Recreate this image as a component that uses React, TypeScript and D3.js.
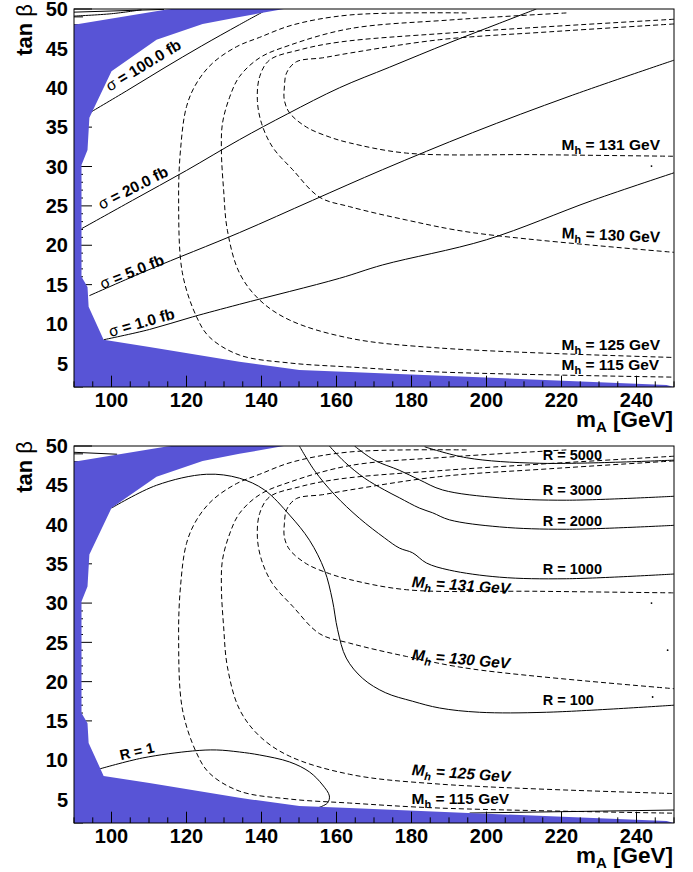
import React from "react";
import * as d3 from "d3";

type Pt = [number, number];

// axis ticks
const xMajor = [100, 120, 140, 160, 180, 200, 220, 240];
const yMajor = [5, 10, 15, 20, 25, 30, 35, 40, 45, 50];

// excluded region (same in both panels)
const excluded: Pt[] = [
  [90, 2], [90, 48.0], [114.7, 49.95], [116, 50], [146, 50], [144.8, 49.9], [134.1, 49.0],
  [124.3, 48.1], [112, 46.1], [100, 42.1], [94.1, 36.2], [93.6, 32.1], [92, 30.2], [92, 16.0],
  [93.6, 14.7], [93.9, 12.2], [97.9, 8.0], [110.1, 7.08], [134.1, 5.2], [150.1, 4.16],
  [163.5, 3.9], [248, 2.25], [250, 2],
];

// Higgs mass contours (dashed, both panels)
const mh131: Pt[] = [
  [250, 48.1], [216.8, 47.1], [187.5, 46.1], [163.5, 44.4], [156.3, 43.8], [149.3, 43.3], [146.7, 41.9],
  [146.1, 40.1], [146.1, 38.4], [147.5, 36.8], [152, 35.0], [158.1, 33.75], [163.5, 33.0],
  [178.7, 31.7], [214.1, 31.5], [250, 31.3],
];
const mh130: Pt[] = [
  [250, 48.7], [190.1, 46.95], [160.8, 45.8], [150.1, 44.8], [142.1, 43.5], [139.5, 41.4],
  [138.9, 38.4], [140, 35.5], [142.9, 32.5], [148.3, 29.6], [155.5, 26.1], [163.5, 24.9],
  [178.7, 23.2], [196.3, 21.6], [250, 19.1],
];
const mh125: Pt[] = [
  [221.3, 49.5], [190.1, 48.6], [163.5, 47.5], [147.5, 45.4], [139.5, 43.8], [134.1, 41.4],
  [131.5, 38.8], [129.6, 35.5], [129.3, 32.1], [129.9, 27.0], [130.9, 21.9], [134.1, 16.5],
  [139.5, 13.05], [147.5, 10.5], [163.5, 8.2], [187.5, 6.95], [250, 5.75],
];
const mh115: Pt[] = [
  [194.7, 49.5], [163.5, 49.24], [148.3, 47.97], [139.5, 46.4], [133.3, 45.2], [126.9, 43.1],
  [122.7, 40.6], [120, 37.6], [118.4, 32.1], [117.9, 25.75], [118.9, 16.5], [122.7, 10.9],
  [126.1, 8.35], [134.1, 6.06], [147.5, 5.05], [163.5, 4.54], [187.5, 3.9], [250, 3.25],
];

// cross section contours (top panel)
const sigma100: Pt[] = [[94.1, 36.8], [104, 39.6], [114, 42.5], [124, 45.3], [134.1, 48.0], [141, 49.8]];
const sigma20: Pt[] = [
  [92, 22.1], [105.6, 25.7], [120, 29.5], [134.1, 33.4], [147, 36.7], [160.8, 40.0],
  [174.1, 42.6], [190, 45.7], [203.5, 48.2], [213.3, 50.0],
];
const sigma5: Pt[] = [
  [94.1, 13.6], [110, 16.9], [134.1, 21.6], [153.6, 25.7], [172.3, 29.6],
  [196.3, 34.3], [222, 38.9], [250, 43.5],
];
const sigma1: Pt[] = [
  [97.9, 8.0], [110.1, 9.3], [121.6, 10.9], [134.1, 12.5], [160.8, 15.8], [172.3, 17.5],
  [200, 20.7], [228.3, 25.7], [250, 29.2],
];
const sigmaCorner1: Pt[] = [[90, 49.6], [114, 49.95]];
const sigmaCorner2: Pt[] = [[90, 49.1], [100, 49.4], [108, 49.9]];

// ratio contours (bottom panel)
const r1: Pt[] = [
  [96.8, 8.88], [108.3, 10.28], [121.6, 11.17], [128, 11.3], [134.1, 11.04], [139.5, 10.66],
  [147.5, 9.77], [152.8, 8.5], [156.3, 6.84], [158.1, 5.44], [157.6, 4.55], [154.9, 3.9],
];
const r100: Pt[] = [
  [100, 42.1], [112, 45.0], [125.3, 46.4], [134.1, 45.9], [140.8, 44.4], [147.5, 41.2],
  [152.8, 38.0], [156.8, 34.2], [158.9, 30.4], [160.3, 26.6], [162.6, 23.0], [167, 20.4],
  [173, 18.6], [180.3, 17.5], [187.5, 16.64], [198.1, 16.1], [216, 16.1], [250, 17.0],
];
const r1000: Pt[] = [
  [150.1, 50], [154.1, 46.9], [159.5, 43.8], [166.1, 40.8], [172.8, 38.3], [176.8, 37.0],
  [180.3, 36.4], [184.0, 35.1], [190.1, 34.2], [203.5, 33.3], [221.3, 33.1], [250, 33.7],
];
const r2000: Pt[] = [
  [158.1, 50], [162.1, 48.0], [167.5, 45.9], [172.8, 44.4], [176.8, 43.4], [182.1, 42.1],
  [185.6, 41.5], [190.1, 40.6], [203.5, 39.7], [221.3, 39.4], [250, 39.9],
];
const r3000: Pt[] = [
  [164.8, 50], [170.1, 48.2], [176.8, 46.9], [182.1, 45.7], [188.3, 44.4], [203.5, 43.4],
  [221.3, 43.1], [250, 43.6],
];
const r5000: Pt[] = [[183.5, 49.9], [194.7, 48.5], [214.1, 47.8], [250, 48.2]];
const rCorner: Pt[] = [[90, 49.2], [101.5, 48.95]];
const rLow: Pt[] = [[195.5, 3.27], [250, 3.65]];

const strayTop: Pt[] = [[244, 30.06]];
const strayBottom: Pt[] = [[244, 30.0], [244.3, 18.04], [248.3, 24.0]];

const sigmaLabels = [
  { text: "100.0", x: 99.5, y: 39.5, angle: -31 },
  { text: "20.0", x: 97.3, y: 24.5, angle: -27 },
  { text: "5.0", x: 97.6, y: 14.4, angle: -22 },
  { text: "1.0", x: 99.7, y: 8.35, angle: -16 },
];
const mhLabelsTop = [
  { mass: "131", x: 220, y: 32.1, angle: 0, italic: false },
  { mass: "130", x: 220, y: 20.9, angle: 2.5, italic: false },
  { mass: "125", x: 220, y: 6.7, angle: 0, italic: false },
  { mass: "115", x: 220, y: 4.16, angle: 0, italic: false },
];
const mhLabelsBottom = [
  { mass: "131", x: 180, y: 32.05, angle: 4, italic: true },
  { mass: "130", x: 180, y: 22.75, angle: 5, italic: true },
  { mass: "125", x: 180, y: 8.1, angle: 4, italic: true },
  { mass: "115", x: 180, y: 4.4, angle: 0, italic: false },
];
const rLabels = [
  { text: "R = 5000", x: 215, y: 48.2, angle: 0 },
  { text: "R = 3000", x: 215, y: 43.8, angle: 0 },
  { text: "R = 2000", x: 215, y: 39.8, angle: 0 },
  { text: "R = 1000", x: 215, y: 33.7, angle: 0 },
  { text: "R = 100", x: 215, y: 17.0, angle: 0 },
  { text: "R = 1", x: 102.5, y: 10.0, angle: -13 },
];

const FONT = "'Liberation Sans', Arial, Helvetica, sans-serif";
const BLUE = "#5854d6";
const LEFT = 74;
const RIGHT = 674;

const x = d3.scaleLinear().domain([90, 250]).range([LEFT, RIGHT]);

type Label = { mass: string; x: number; y: number; angle: number; italic: boolean };

function Panel({ id, top, bottom, solids, dashed, dots, children }: {
  id: string; top: number; bottom: number; solids: Pt[][]; dashed: Pt[][]; dots: Pt[];
  children: (y: d3.ScaleLinear<number, number>) => React.ReactNode;
}) {
  const y = d3.scaleLinear().domain([2, 50]).range([bottom, top]);
  const line = d3.line<Pt>().x((d) => x(d[0])).y((d) => y(d[1])).curve(d3.curveCatmullRom.alpha(0.5));
  const area = d3.line<Pt>().x((d) => x(d[0])).y((d) => y(d[1])).curve(d3.curveLinearClosed);
  const h = bottom - top;
  const yMinor = d3.range(2, 51, 1);
  const xMinor = d3.range(90, 251, 5);
  const ticksY = 0.03 * (RIGHT - LEFT);
  const ticksX = 0.03 * h;

  return (
    <g>
      <defs>
        <clipPath id={id}>
          <rect x={LEFT} y={top} width={RIGHT - LEFT} height={h} />
        </clipPath>
      </defs>
      {/* left ticks sit under the excluded region */}
      <g stroke="#000" strokeWidth={1}>
        {yMinor.map((v) => (
          <line key={v} x1={LEFT} x2={LEFT + (v % 5 === 0 ? ticksY : ticksY / 2)} y1={y(v)} y2={y(v)} />
        ))}
      </g>
      <g clipPath={`url(#${id})`} fill="none" stroke="#000" strokeWidth={1}>
        {dashed.map((d, i) => (
          <path key={"d" + i} d={line(d) || ""} strokeDasharray="5,3" />
        ))}
        {solids.map((d, i) => (
          <path key={"s" + i} d={line(d) || ""} />
        ))}
        <path d={area(excluded) || ""} fill={BLUE} stroke="none" />
        {dots.map((d, i) => (
          <circle key={"p" + i} cx={x(d[0])} cy={y(d[1])} r={0.9} fill="#000" stroke="none" />
        ))}
      </g>
      <g stroke="#000" strokeWidth={1}>
        {xMinor.map((v) => (
          <line key={v} x1={x(v)} x2={x(v)} y1={bottom} y2={bottom - (v % 20 === 0 ? ticksX : ticksX / 2)} />
        ))}
      </g>
      <rect x={LEFT} y={top} width={RIGHT - LEFT} height={h} fill="none" stroke="#000" strokeWidth={1} />
      <g fontFamily={FONT} fontWeight="bold" fontSize={20}>
        {yMajor.map((v) => (
          <text key={v} x={68} y={y(v)} dy="0.36em" textAnchor="end">{v}</text>
        ))}
        {xMajor.map((v) => (
          <text key={v} x={x(v)} y={bottom + 20} textAnchor="middle">{v}</text>
        ))}
      </g>
      <text transform={`translate(32,${top - 5}) rotate(-90)`} textAnchor="end" fontFamily={FONT}
        fontSize={22} fontWeight="bold">
        tan <tspan fontWeight="normal">β</tspan>
      </text>
      <text x={RIGHT - 1} y={bottom + 40} textAnchor="end" fontFamily={FONT} fontSize={22.5} fontWeight="bold">
        m<tspan dy={5} fontSize={15}>A</tspan><tspan dy={-5}> [GeV]</tspan>
      </text>
      {children(y)}
    </g>
  );
}

function MhLabels({ labels, y }: { labels: Label[]; y: d3.ScaleLinear<number, number> }) {
  return (
    <g fontFamily={FONT} fontWeight="bold" fontSize={15.5}>
      {labels.map((l) => (
        <text key={l.mass} transform={`translate(${x(l.x)},${y(l.y)}) rotate(${l.angle})`}
          fontStyle={l.italic ? "italic" : "normal"}>
          M<tspan dy={4} fontSize={11}>h</tspan><tspan dy={-4}>{` = ${l.mass} GeV`}</tspan>
        </text>
      ))}
    </g>
  );
}

export default function App() {
  return (
    <svg width={693} height={872} style={{ display: "block", position: "absolute", left: 0, top: 0 }}>
      <rect width={693} height={872} fill="#fff" />
      <Panel id="clipTop" top={9} bottom={387}
        solids={[sigma100, sigma20, sigma5, sigma1, sigmaCorner1, sigmaCorner2]}
        dashed={[mh131, mh130, mh125, mh115]} dots={strayTop}>
        {(y) => (
          <g>
            <g fontFamily={FONT} fontWeight="bold" fontSize={15.5}>
              {sigmaLabels.map((l) => (
                <text key={l.text} transform={`translate(${x(l.x)},${y(l.y)}) rotate(${l.angle})`}>
                  <tspan fontWeight="normal">σ</tspan>{` = ${l.text} fb`}
                </text>
              ))}
            </g>
            <MhLabels labels={mhLabelsTop} y={y} />
          </g>
        )}
      </Panel>
      <Panel id="clipBottom" top={446} bottom={823}
        solids={[r1, r100, r1000, r2000, r3000, r5000, rCorner, rLow]}
        dashed={[mh131, mh130, mh125, mh115]} dots={strayBottom}>
        {(y) => (
          <g>
            <g fontFamily={FONT} fontWeight="bold" fontSize={14.5}>
              {rLabels.map((l) => (
                <text key={l.text} transform={`translate(${x(l.x)},${y(l.y)}) rotate(${l.angle})`}>
                  {l.text}
                </text>
              ))}
            </g>
            <MhLabels labels={mhLabelsBottom} y={y} />
          </g>
        )}
      </Panel>
    </svg>
  );
}
